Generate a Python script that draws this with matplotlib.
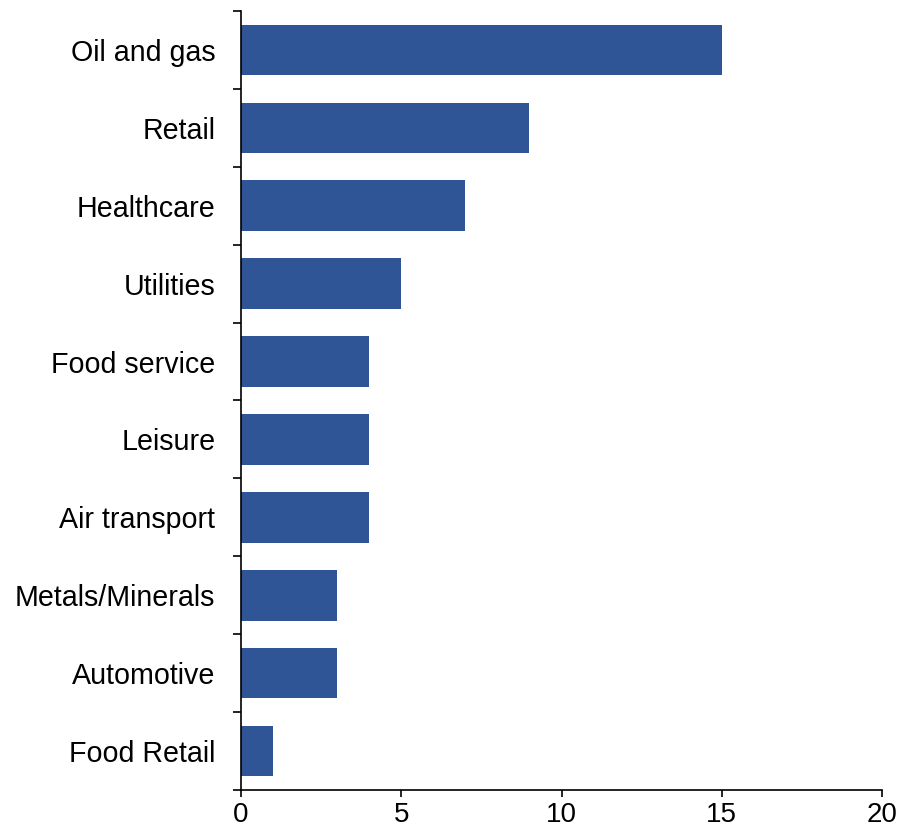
import matplotlib
matplotlib.use("Agg")
import matplotlib.pyplot as plt
import numpy as np

plt.rcParams['font.family'] = ['Liberation Sans', 'DejaVu Sans']

sectors = ['Oil and gas', 'Retail', 'Healthcare', 'Utilities', 'Food service',
           'Leisure', 'Air transport', 'Metals/Minerals', 'Automotive', 'Food Retail']
values = [15, 9, 7, 5, 4, 4, 4, 3, 3, 1]
xticks = [0, 5, 10, 15, 20]

fig = plt.figure(figsize=(9, 8.3), dpi=100)
ax = fig.add_axes([241 / 900, 40 / 830, 641 / 900, 779 / 830])

pos = np.arange(len(sectors))
ax.barh(pos, values, height=0.65, color='#2F5597')

ax.set_ylim(len(sectors) - 0.5, -0.5)
ax.set_xlim(0, 20)
ax.set_yticks(pos)
ax.set_yticklabels(sectors)
ax.set_yticks(np.arange(len(sectors) + 1) - 0.5, minor=True)
ax.tick_params(axis='y', which='major', length=0, pad=18.5, labelsize=20.6)
ax.tick_params(axis='y', which='minor', length=6, width=1.2, direction='out')
ax.set_xticks(xticks)
ax.set_xticklabels([str(t) for t in xticks])
ax.tick_params(axis='x', length=5, width=1.2, labelsize=20, pad=3.5)

for side in ['top', 'right']:
    ax.spines[side].set_visible(False)
for side in ['left', 'bottom']:
    ax.spines[side].set_linewidth(1.2)

fig.savefig('out.png', dpi=100)
